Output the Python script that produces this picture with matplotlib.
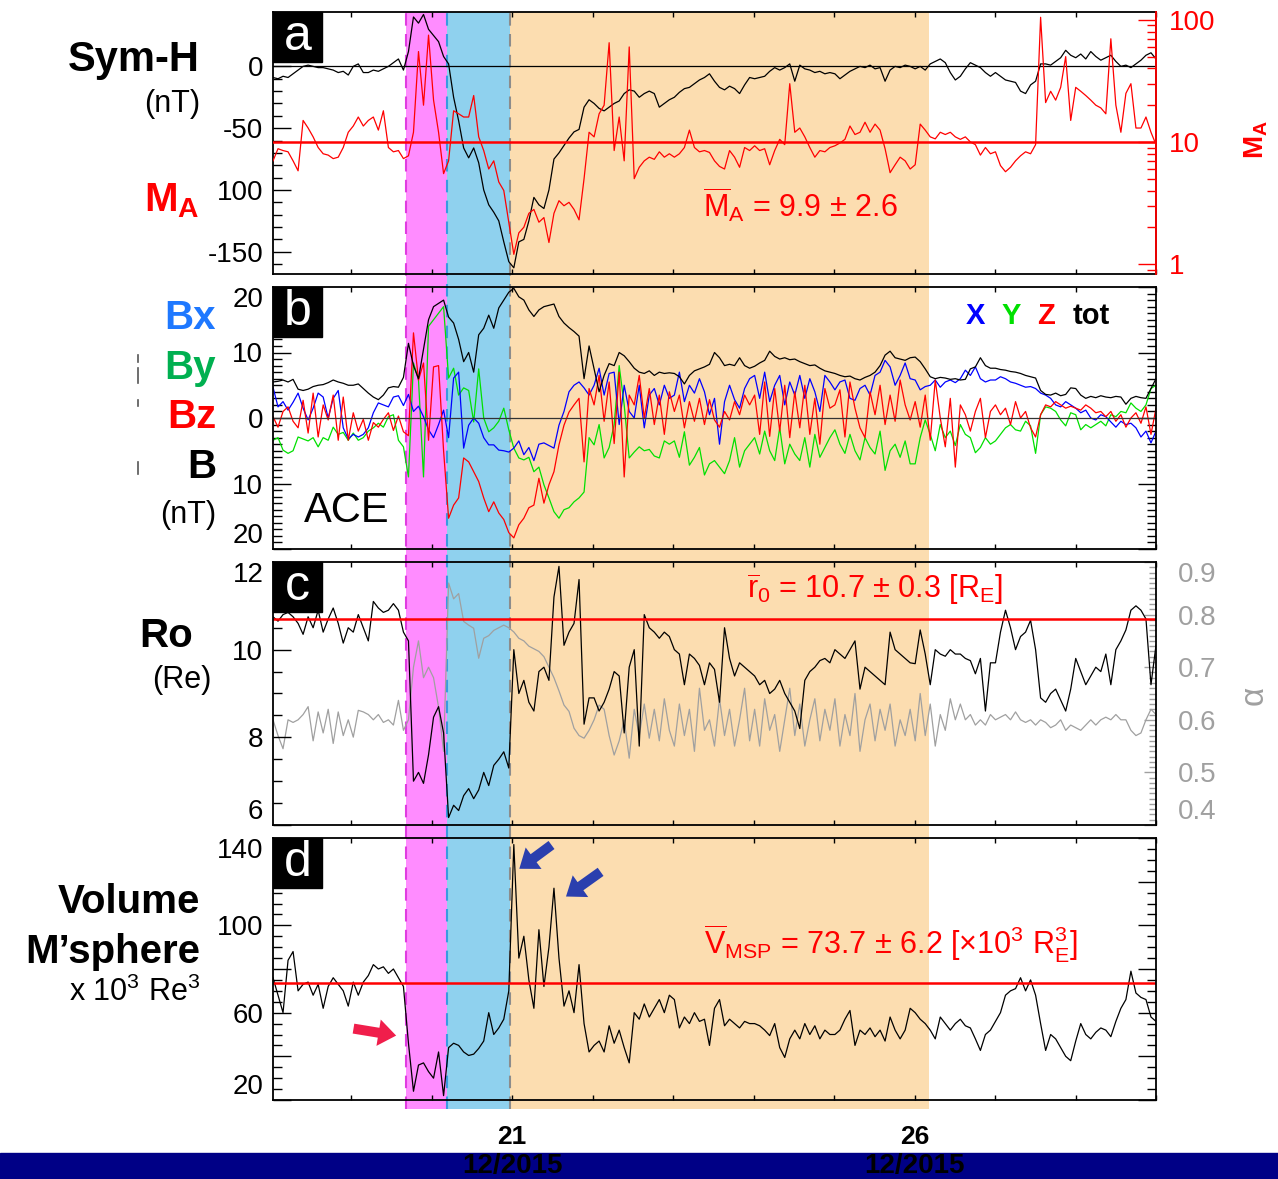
import numpy as np
import matplotlib.pyplot as plt
import matplotlib.transforms as mtransforms
from matplotlib.patches import Rectangle
from matplotlib.lines import Line2D
from matplotlib.ticker import MultipleLocator, FixedLocator, LogLocator, NullFormatter

plt.rcParams['font.family'] = ['Liberation Sans', 'DejaVu Sans']
plt.rcParams['mathtext.fontset'] = 'custom'
plt.rcParams['mathtext.rm'] = 'Liberation Sans'
plt.rcParams['mathtext.it'] = 'Liberation Sans:italic'
plt.rcParams['mathtext.bf'] = 'Liberation Sans:bold'
plt.rcParams['axes.unicode_minus'] = False

# time span (day of December 2015) and event boundaries
T0, T1 = 18.03, 29.0
shock_start, sheath_end, mc_start, mc_end = 19.68, 20.19, 20.98, 26.18

# Sym-H index (nT), 1.5 h samples, one row per day
sym_h = [
    -9, -10, -8, -9, -6, -3, 0, 1, 0, -1, -1, -2, -3, -5, -4, -7,
    0, 2, -5, -5, -3, -4, -2, 0, 3, 6, -3, 12, 40, 35, 42, 30,
    25, 20, 8, 2, -25, -44, -66, -74, -66, -78, -100, -112, -118, -125, -142, -158,
    -163, -142, -140, -125, -106, -112, -115, -100, -75, -70, -64, -58, -53, -51, -33, -27,
    -30, -34, -36, -33, -30, -28, -22, -19, -20, -25, -22, -20, -22, -33, -30, -27,
    -25, -21, -18, -17, -14, -11, -9, -6, -12, -17, -19, -16, -18, -22, -15, -9,
    -10, -9, -8, -4, -1, -3, -1, 2, -12, 1, -2, -3, -5, -4, -6, -5,
    -6, -10, -7, -4, -2, 0, -1, 1, -2, -1, -12, -3, 0, -1, 1, 0,
    -2, 0, -3, 2, 4, 6, 3, -5, -11, -8, -2, 3, 1, -1, -5, -8,
    -5, -8, -11, -12, -13, -20, -22, -15, -12, 2, 2, 1, 4, 7, 13, 9,
    7, 10, 6, 12, 8, 5, 7, 9, 4, 0, 1, -1, 2, 5, 9, 11,
    6,
]

# Alfven Mach number
m_a = [
    7, 8.8, 8.5, 8.3, 7, 5.8, 15, 13, 11, 9, 8, 7.8, 7.3, 7.5, 9, 12,
    13.5, 16, 13.5, 15, 16, 12.5, 18, 9, 8.3, 8.5, 7.3, 7.7, 12, 55, 20, 75,
    22, 12, 5.5, 7, 18, 17, 16, 16, 24, 11, 8.5, 6, 7, 4.7, 4, 2.2,
    1.2, 1.8, 2.0, 2.6, 2.8, 2.2, 2.4, 1.5, 2.6, 3.3, 3.0, 3.2, 2.8, 2.3, 5, 12,
    11, 17, 20, 65, 8.5, 16, 7, 60, 5, 6.2, 7, 7.5, 7.2, 8.3, 7.5, 8,
    7.5, 8, 9, 12.5, 9, 8.3, 8.5, 8.2, 7, 6.3, 6, 8.5, 7.5, 6.2, 9, 8.5,
    9.3, 8.5, 8.8, 6.5, 8.5, 10.5, 9.5, 30, 12, 13, 11, 9, 7.5, 8.5, 8.3, 9,
    9.3, 9.8, 10.5, 13.5, 11.5, 12, 14.5, 12, 14, 12.5, 8.8, 5.6, 6.5, 7.5, 7, 6,
    6.5, 14, 12.5, 11, 10.6, 12, 11.5, 12, 11, 10.5, 11, 10, 9.5, 7.8, 9, 8,
    8.3, 6.4, 5.7, 6.2, 7, 7.7, 8.3, 8, 9.5, 105, 21, 26, 22, 28, 50, 15,
    28, 26, 24, 22, 20, 19, 17, 70, 20, 12, 25, 30, 13, 13, 16, 12,
    9.5,
]

# IMF at ACE (nT)
b_tot = [
    5.5, 5.6, 5.8, 5.5, 5.9, 4.4, 4.2, 4.4, 4.8, 5.0, 5.1, 5.4, 5.8, 5.5, 5.3, 5.0,
    5.0, 5.2, 4.5, 3.8, 3.2, 2.8, 3.5, 4.6, 4.8, 4.7, 6.2, 11.4, 8.0, 6.0, 10.5, 15.0,
    17, 17.5, 18, 15.4, 14.5, 12, 8.6, 10, 7, 12.7, 13.7, 15.7, 13.7, 16.8, 18, 19.2,
    19.8, 18.5, 18, 16.5, 15.5, 16.5, 17, 17.2, 17.4, 15.5, 14.5, 13.8, 13.2, 12.5, 6, 11,
    7.5, 4, 6.5, 8.3, 8, 10, 9.5, 8.6, 7.6, 7, 6.8, 7.2, 6.5, 7, 6.8, 6.9,
    6.8, 6.3, 5.2, 6.5, 7.2, 7.5, 7.8, 8.2, 10.0, 9.2, 8.0, 8.2, 8.0, 9.2, 8.0, 7.6,
    7.9, 8.4, 8.8, 10.2, 9.4, 9.0, 9.2, 8.9, 9.0, 8.6, 8.3, 8.0, 8.1, 7.6, 7.2, 7.0,
    6.8, 6.5, 6.3, 6.4, 6.0, 5.8, 6.2, 6.5, 7.0, 8.0, 9.6, 10.2, 9.2, 9.0, 8.8, 9.2,
    9.3, 8.6, 7.5, 6.3, 6.0, 6.2, 6.1, 5.9, 6.0, 5.8, 5.9, 7.5, 7.8, 9.2, 8.0, 7.6,
    7.6, 7.4, 7.3, 7.1, 7.0, 6.8, 6.5, 6.3, 6.1, 4.2, 3.6, 3.5, 3.8, 3.4, 3.6, 4.6,
    4.5, 3.5, 3.0, 3.3, 3.1, 3.4, 3.2, 3.1, 3.3, 3.2, 2.1, 3.0, 3.3, 3.1, 3.0, 4.5,
    6.0,
]

b_x = [
    4.7, 1.7, 2.5, 1.2, 2.4, 3.8, 1.5, -0.3, 1.5, 3.8, 3.2, 0.0, 3.0, 4.2, -1.5, -3.2,
    -2.5, -2.9, -2.5, -1.5, 0.8, 2.3, 2.0, 1.7, 3.2, 3.4, 1.9, 3.6, 1.0, 1.8, 0.2, -1.8,
    -3.0, -1.0, 1.2, -3.0, 6.1, 7.0, -4.6, -1.1, 0.0, -0.8, -3.0, -4.1, -4.1, -4.9, -5.0, -5.2,
    -4.6, -3.5, -5.6, -4.5, -6.5, -4.0, -3.8, -4.2, -4.6, -1.1, 1.0, 4.0, 5.0, 5.5, 4.6, 3.5,
    5.0, 7.6, 3.5, 6.8, 7.0, -1.0, 5.0, 1.0, 0.0, 5.0, -1.5, 3.5, 4.5, 2.0, 5.0, 3.0,
    3.5, 7.0, 2.5, 5.0, 3.8, 6.0, 4.0, 0.5, 3.0, -4.0, 2.5, 5.0, 2.8, 1.5, 4.5, 6.0,
    6.5, 3.0, 7.0, 2.5, 5.0, 6.5, 2.0, 5.5, 3.5, 6.5, 3.0, 6.0, 4.0, 1.0, 6.5, 5.5,
    4.3, 5.5, 5.8, 3.0, 2.7, 4.5, 5.0, 3.5, 6.5, 7.0, 8.8, 7.8, 5.0, 6.5, 8.4, 6.0,
    5.8, 4.3, 4.8, 5.0, 5.8, 4.7, 5.5, 5.8, 5.4, 6.0, 7.3, 6.5, 7.8, 6.0, 5.5, 5.8,
    5.8, 6.3, 6.0, 5.5, 5.3, 5.0, 4.7, 4.8, 4.5, 3.8, 3.5, 3.0, 2.0, 1.7, 2.5, 2.0,
    1.5, 0.8, 1.2, 0.0, -0.3, 0.5, 0.2, -0.6, -1.4, -0.5, -1.0, -0.8, -1.5, -2.9, -2.0, -3.8,
    -2.0,
]

b_y = [
    -3.4, -3.0, -4.9, -5.4, -5.0, -2.9, -3.2, -3.5, -3.0, -4.4, -3.0, -3.4, -1.4, -2.5, -2.2, -3.4,
    -2.3, -3.4, -3.0, -2.0, -1.5, -0.8, -1.4, 0.2, 0.5, -3.4, -4.4, -9.0, 8.4, 5.8, -9.0, 14.0,
    15, 16, 17, 6.1, 7.6, 3.5, 4.6, 4.2, -0.6, 7.5, 0.0, -2.1, -1.5, -0.5, 1.5, -1.8,
    -4.6, -6.1, -6.4, -6.0, -8.2, -7.5, -10.2, -12.2, -14.3, -15.3, -14.0, -13.7, -12.8, -12.2, -11.3, -3.0,
    -4.1, -1.0, -6.1, -4.5, -1.0, 8.0, 2.0, -6.1, -5.2, -4.4, -5.0, -4.8, -5.8, -6.1, -3.5, -4.0,
    -3.5, -6.0, -2.1, -7.2, -6.0, -4.5, -8.7, -7.0, -6.5, -7.5, -8.5, -6.5, -3.0, -7.5, -5.0, -4.0,
    -3.0, -5.5, -2.0, -5.0, -6.5, -1.5, -7.0, -4.0, -5.5, -6.5, -3.0, -7.5, -2.5, -6.0, -4.5, -3.0,
    -1.8, -4.0, -5.4, -2.5, -5.0, -6.4, -3.0, -4.5, -5.5, -2.0, -8.0, -5.0, -4.0, -6.0, -3.5, -7.0,
    -7.0, -3.0, -0.3, -2.5, -5.0, -1.0, -3.0, -2.0, -4.2, -1.0, -2.5, -3.0, -5.3, -4.5, -3.0, -4.0,
    -3.5, -2.5, -1.5, -1.0, -1.8, -2.0, -0.5, -1.2, -5.4, 0.5, 1.7, 1.5, 1.0, -0.3, -1.2, 0.8,
    0.5, -1.8, -1.0, -1.5, -1.0, -0.5, -1.2, 0.5, 0.2, 1.0, 0.8, 2.3, 1.5, 1.0, 2.0, 4.5,
    5.0,
]

b_z = [
    0.2, -1.4, 1.0, 1.7, -0.5, -1.5, 2.7, -2.3, 3.8, -2.9, 2.0, -0.3, 3.5, -3.4, 3.2, -3.4,
    0.8, -2.0, -0.2, -3.4, -0.7, -1.4, -0.2, 0.8, -1.9, 0.3, -2.1, -2.7, 13.0, 5.8, 8.4, -3.4,
    7.8, 8.0, -5.0, -15.3, -13.3, -12.2, -6.1, -6.7, -8.2, -9.7, -12.2, -14.3, -12.8, -14.5, -15.5, -17.5,
    -18.3, -16.3, -15.3, -13.7, -13.3, -9.2, -13.0, -10.2, -8.2, -4.1, -1.1, 0.9, 2.0, 3.0, -6.7, 4.5,
    2.0, 6.5, -0.5, 5.5, -3.9, 7.0, -9.0, 3.5, 2.0, 6.5, 0.0, 4.5, -1.0, 3.5, -2.5, 4.0,
    1.0, 3.5, -1.5, 2.5, -0.5, 3.0, -1.0, 2.8, -0.3, -1.4, 1.0, -0.3, 2.5, 0.5, 3.5, 2.0,
    3.5, -2.5, 5.5, -2.8, 4.5, -2.0, 5.0, -3.0, 4.0, -1.5, 5.0, -2.5, 3.0, -4.0, 4.5, 1.5,
    2.0, 4.3, -2.9, 5.5, 1.5, -1.5, -3.0, 4.0, 0.5, 5.0, -1.0, 3.5, -0.5, 5.8, 2.0, -0.3,
    2.5, -1.4, 3.5, -3.4, 5.8, 0.0, -4.4, 3.0, -7.5, 2.0, 0.5, -2.0, 1.0, 3.0, -3.0, 1.0,
    2.0, 0.5, 1.5, -1.0, 2.5, 0.0, 1.0, -1.5, -2.9, 0.5, 2.0, 1.7, 2.5, 2.0, 1.5, 1.8,
    1.5, 1.2, 2.0, 1.5, 0.8, 1.0, 0.2, 1.0, -0.5, 0.5, -1.4, 0.0, 0.8, -0.8, 1.7, -2.5,
    1.5,
]

# magnetopause standoff distance (Re) and flaring parameter
r_0 = [
    10.75, 10.65, 10.8, 10.85, 10.75, 10.6, 10.35, 10.75, 10.5, 10.9, 10.4, 10.7, 10.95, 10.6, 10.15, 10.5,
    10.4, 10.8, 10.5, 10.2, 11.1, 10.95, 10.85, 10.9, 11.05, 10.9, 10.4, 10.2, 7.0, 7.2, 6.95, 7.6,
    8.46, 8.7, 8.1, 6.17, 6.45, 6.33, 6.67, 6.83, 6.6, 6.8, 7.2, 6.9, 7.36, 7.5, 7.67, 7.3,
    10.0, 9.0, 9.3, 8.8, 8.6, 9.5, 9.6, 9.3, 11.2, 11.9, 10.1, 10.4, 10.6, 11.6, 8.3, 8.9,
    8.9, 8.6, 8.8, 9.1, 9.5, 9.4, 8.1, 9.6, 10.0, 7.8, 10.8, 10.5, 10.4, 10.26, 10.4, 10.3,
    10.0, 9.9, 9.2, 9.9, 9.8, 9.64, 9.2, 9.7, 9.55, 8.8, 10.5, 9.8, 9.4, 9.7, 9.6, 9.5,
    9.4, 9.2, 9.3, 9.0, 9.1, 9.3, 9.0, 8.8, 8.6, 8.2, 9.3, 9.5, 9.6, 9.75, 9.8, 9.7,
    10.0, 9.9, 9.8, 10.0, 10.2, 9.1, 9.6, 9.5, 9.4, 9.3, 9.2, 10.4, 10.0, 9.9, 9.8, 9.7,
    9.68, 10.45, 9.9, 9.2, 10.0, 9.9, 9.85, 10.0, 9.9, 9.9, 9.8, 9.75, 9.45, 9.8, 8.6, 9.7,
    9.7, 10.4, 10.9, 10.5, 10.0, 10.3, 10.4, 10.67, 10.0, 8.9, 8.8, 9.0, 9.1, 8.85, 8.6, 9.1,
    9.8, 9.5, 9.2, 9.4, 9.6, 9.5, 9.9, 9.2, 10.0, 10.2, 10.45, 10.9, 11.0, 10.9, 10.7, 9.2,
    10.1,
]

alpha = [
    0.6, 0.57, 0.545, 0.6, 0.595, 0.6, 0.61, 0.625, 0.56, 0.615, 0.575, 0.62, 0.555, 0.615, 0.57, 0.6,
    0.567, 0.618, 0.615, 0.61, 0.6, 0.61, 0.595, 0.6, 0.59, 0.637, 0.58, 0.6, 0.7, 0.75, 0.68, 0.7,
    0.68, 0.624, 0.54, 0.86, 0.83, 0.84, 0.787, 0.78, 0.774, 0.717, 0.755, 0.76, 0.77, 0.775, 0.78, 0.775,
    0.767, 0.755, 0.75, 0.74, 0.735, 0.73, 0.72, 0.7, 0.68, 0.655, 0.628, 0.616, 0.584, 0.57, 0.565, 0.58,
    0.6, 0.628, 0.62, 0.57, 0.533, 0.56, 0.6, 0.527, 0.62, 0.57, 0.63, 0.565, 0.62, 0.56, 0.64, 0.58,
    0.55, 0.63, 0.57, 0.62, 0.54, 0.66, 0.58, 0.6, 0.55, 0.64, 0.57, 0.62, 0.55, 0.6, 0.66, 0.56,
    0.62, 0.55, 0.64, 0.58, 0.61, 0.54, 0.6, 0.66, 0.57, 0.63, 0.55, 0.6, 0.64, 0.56, 0.62, 0.58,
    0.64, 0.55, 0.61, 0.57, 0.65, 0.54, 0.6, 0.63, 0.56, 0.62, 0.58, 0.63, 0.55, 0.6, 0.57, 0.62,
    0.56, 0.65, 0.57, 0.63, 0.55, 0.61, 0.58, 0.64, 0.6, 0.63, 0.6, 0.61, 0.59, 0.6, 0.59, 0.61,
    0.6, 0.605, 0.61, 0.6, 0.615, 0.6, 0.595, 0.6, 0.59, 0.6, 0.595, 0.585, 0.59, 0.6, 0.58, 0.59,
    0.585, 0.58, 0.59, 0.6, 0.59, 0.6, 0.605, 0.6, 0.61, 0.6, 0.6, 0.58, 0.57, 0.575, 0.6, 0.62,
    0.61,
]

# magnetosphere volume (x 10^3 Re^3)
volume = [
    76, 68, 60, 84, 88, 70, 73, 74, 68, 73, 62, 72, 76, 73, 70, 63,
    74, 68, 74, 77, 82, 80, 81, 78, 80, 76, 72, 46, 24, 36, 37, 33,
    30, 42, 22, 44, 46, 45, 42, 40.4, 41, 43.6, 47, 60, 50, 53, 57, 70,
    137, 85, 95, 75, 62, 98, 72, 90, 117, 85, 63, 70, 60, 82, 55, 42,
    45, 47, 42, 54, 46, 52, 44, 37, 60, 57, 64, 58, 62, 66, 60, 68,
    66, 53, 58, 55, 60, 56, 57, 45, 62, 66, 54, 57, 55, 53, 56, 55,
    55, 54, 52, 49.5, 55, 44, 39.5, 48, 52, 48, 55, 50, 54, 48, 52, 50,
    50, 52, 57, 61, 45, 52, 50, 53, 49, 52, 47, 58, 52, 48, 52, 62,
    60, 57, 55, 52, 48, 58, 55, 52, 55, 57, 54, 53, 48, 42.7, 50, 52,
    56, 60, 68, 70, 71, 76, 70, 75, 68, 55, 42.7, 50, 48, 44, 40, 38,
    47, 55, 50, 48, 51, 53, 52, 49, 56, 62, 66, 79, 69, 67, 66, 58,
    56,
]

ma_mean, r0_mean, vol_mean = 9.9, 10.7, 73.7


def times(series):
    return np.linspace(T0, T1, len(series))


W, H = 1278, 1179
fig = plt.figure(figsize=(W / 100, H / 100), dpi=100)
X0, X1 = 273, 1156


def fx(px):
    return px / W


def fy(px):
    return 1 - px / H


def panel(top, bottom):
    ax = fig.add_axes([X0 / W, 1 - bottom / H, (X1 - X0) / W, (bottom - top) / H])
    ax.set_facecolor('none')
    ax.set_xlim(T0, T1)
    ax.xaxis.set_major_locator(MultipleLocator(1))
    ax.tick_params(axis='x', which='both', direction='in', top=True, bottom=True,
                   length=3.5, width=1, labelbottom=False)
    ax.tick_params(axis='y', which='major', direction='in', length=13, width=1,
                   labelsize=20, pad=7)
    ax.tick_params(axis='y', which='minor', direction='in', length=6.5, width=1)
    for s in ax.spines.values():
        s.set_linewidth(1.3)
    return ax


def letter(ax, ch):
    h = 50 / (ax.get_position().height * H)
    w = 49 / (X1 - X0)
    ax.add_patch(Rectangle((0, 1 - h), w, h, transform=ax.transAxes,
                           color='black', zorder=10, clip_on=False))
    ax.text(w / 2, 1 - h / 2, ch, transform=ax.transAxes, color='white',
            fontsize=36, ha='center', va='center', zorder=11)


def edge_labels(labels):
    labels[0].set_va('bottom')
    labels[-1].set_va('top')


# shaded event intervals behind all panels
bg = fig.add_axes([X0 / W, 1 - 1109 / H, (X1 - X0) / W, (1109 - 12) / H])
bg.set_zorder(-5)
bg.set_xlim(T0, T1)
bg.set_ylim(0, 1)
bg.axis('off')
bg.axvspan(shock_start, sheath_end, color='#FF8CFF', lw=0)
bg.axvspan(sheath_end, mc_start, color='#8FD1EE', lw=0)
bg.axvspan(mc_start, mc_end, color='#FCDDB0', lw=0)
bg.axvline(shock_start, color='#E03CE0', lw=1.5, ls=(0, (6, 4)))
bg.axvline(sheath_end, color='#3A9AE0', lw=1.5, ls=(0, (6, 4)))
bg.axvline(mc_start, color='#8C8C8C', lw=1.5, ls=(0, (6, 4)))

# (a) Sym-H and M_A
ax_a = panel(12, 274)
ax_a.plot(times(sym_h), sym_h, color='black', lw=0.9)
ax_a.axhline(0, color='black', lw=0.9)
ax_a.set_ylim(-168, 44)
ax_a.set_yticks([-150, -100, -50, 0], ['-150', '100', '-50', '0'])
ax_a.yaxis.set_minor_locator(MultipleLocator(10))
letter(ax_a, 'a')

ma_ax = ax_a.twinx()
ma_ax.set_yscale('log')
ma_ax.plot(times(m_a), m_a, color='red', lw=0.9)
ma_ax.axhline(ma_mean, color='red', lw=1.8)
ma_ax.set_ylim(0.828, 116)
ma_ax.yaxis.set_major_locator(FixedLocator([1, 10, 100]))
ma_ax.set_yticklabels(['1', '10', '100'])
ma_ax.yaxis.set_minor_locator(LogLocator(base=10, subs=np.arange(2, 10)))
ma_ax.yaxis.set_minor_formatter(NullFormatter())
ma_ax.tick_params(axis='y', which='major', direction='in', length=13, width=1,
                  colors='red', labelsize=20, pad=9)
ma_ax.tick_params(axis='y', which='minor', direction='in', length=6.5, width=1, colors='red')
ma_ax.spines['right'].set_color('red')
ma_ax.spines['right'].set_linewidth(1.3)
for side in ('left', 'top', 'bottom'):
    ma_ax.spines[side].set_visible(False)

# (b) IMF components
ax_b = panel(287, 549)
ax_b.plot(times(b_y), b_y, color='#00E000', lw=0.9)
ax_b.plot(times(b_x), b_x, color='#0000FF', lw=0.9)
ax_b.plot(times(b_z), b_z, color='#FF0000', lw=0.9)
ax_b.plot(times(b_tot), b_tot, color='black', lw=0.9)
ax_b.axhline(0, color='#333333', lw=0.9)
ax_b.set_ylim(-20, 20)
ax_b.set_yticks([-20, -10, 0, 10, 20], ['20', '10', '0', '10', '20'])
ax_b.yaxis.set_minor_locator(MultipleLocator(1))
ax_b.tick_params(axis='y', which='both', right=True)
edge_labels(ax_b.get_yticklabels())
letter(ax_b, 'b')
ax_b.text(305, 511, 'ACE', fontsize=30, ha='left', va='center',
          transform=mtransforms.IdentityTransform()) if False else None
fig.text(fx(304), fy(511), 'ACE', fontsize=30, ha='left', va='center')
for lab, col, xp in (('X', '#0000FF', 975), ('Y', '#00E000', 1011),
                     ('Z', '#FF0000', 1046), ('tot', 'black', 1091)):
    fig.text(fx(xp), fy(316), lab, color=col, fontsize=21, fontweight='bold',
             ha='center', va='center')

# (c) standoff distance and flaring
ax_c = panel(562, 825)
al_ax = ax_c.twinx()
ax_c.set_zorder(al_ax.get_zorder() + 1)
al_ax.plot(times(alpha), alpha, color='#A0A0A0', lw=0.9)
al_ax.set_ylim(0.4, 0.9)
al_ax.set_yticks([0.4, 0.5, 0.6, 0.7, 0.8, 0.9], ['0.4', '0.5', '0.6', '0.7', '0.8', '0.9'])
al_ax.yaxis.set_minor_locator(MultipleLocator(0.01))
al_ax.tick_params(axis='y', which='major', direction='in', length=9, width=1,
                  colors='#A0A0A0', labelsize=20, pad=16)
al_ax.tick_params(axis='y', which='minor', direction='in', length=5, width=1, colors='#A0A0A0')
al_ax.tick_params(axis='x', which='both', direction='in', top=True, bottom=True, length=3.5)
for side in ('left', 'top', 'bottom', 'right'):
    al_ax.spines[side].set_visible(False)
edge_labels(al_ax.get_yticklabels())

ax_c.plot(times(r_0), r_0, color='black', lw=0.9)
ax_c.axhline(r0_mean, color='red', lw=1.8)
ax_c.set_ylim(6, 12)
ax_c.set_yticks([6, 8, 10, 12], ['6', '8', '10', '12'])
ax_c.yaxis.set_minor_locator(MultipleLocator(0.5))
edge_labels(ax_c.get_yticklabels())
letter(ax_c, 'c')

# (d) magnetosphere volume
ax_d = panel(838, 1100)
ax_d.plot(times(volume), volume, color='black', lw=0.9)
ax_d.axhline(vol_mean, color='red', lw=1.8)
ax_d.set_ylim(20, 140)
ax_d.set_yticks([20, 40, 60, 80, 100, 120, 140], ['20', '', '60', '', '100', '', '140'])
ax_d.yaxis.set_minor_locator(MultipleLocator(5))
ax_d.tick_params(axis='y', which='both', right=True)
edge_labels(ax_d.get_yticklabels())
letter(ax_d, 'd')

arrow = dict(arrowstyle='simple,head_length=0.8,head_width=1.2,tail_width=0.45',
             mutation_scale=16, shrinkA=0, shrinkB=0, lw=0)
ax_d.annotate('', xy=(21.09, 125.9), xytext=(21.49, 136.8),
              arrowprops=dict(arrow, color='#2B3FAE'))
ax_d.annotate('', xy=(21.67, 113.2), xytext=(22.10, 124.5),
              arrowprops=dict(arrow, color='#2B3FAE'))
ax_d.annotate('', xy=(19.56, 49.5), xytext=(19.03, 52.7),
              arrowprops=dict(arrow, color='#F01E4B'))

# mean values
fig.text(fx(703), fy(205), r'$\overline{\mathrm{M}}_\mathrm{A}$ = 9.9 ± 2.6',
         color='red', fontsize=22, ha='left', va='center')
fig.text(fx(747), fy(589), r'$\overline{\mathrm{r}}_0$ = 10.7 ± 0.3 [R$_\mathrm{E}$]',
         color='red', fontsize=22, ha='left', va='center')
fig.text(fx(704), fy(944), r'$\overline{\mathrm{V}}_\mathrm{MSP}$ = 73.7 ± 6.2 [×10$^3$ R$_\mathrm{E}^3$]',
         color='red', fontsize=22, ha='left', va='center')

# left-hand labels
fig.text(fx(200), fy(60), 'Sym-H', fontsize=30, fontweight='bold', ha='right', va='center')
fig.text(fx(200), fy(104), '(nT)', fontsize=22, ha='right', va='center')
fig.text(fx(200), fy(201), r'$\mathbf{M_A}$', color='red', fontsize=29, ha='right', va='center')
fig.text(fx(216), fy(318), 'Bx', color='#1E78FF', fontsize=29, fontweight='bold', ha='right', va='center')
fig.text(fx(216), fy(368), 'By', color='#00B050', fontsize=29, fontweight='bold', ha='right', va='center')
fig.text(fx(216), fy(417), 'Bz', color='#FF0000', fontsize=29, fontweight='bold', ha='right', va='center')
fig.text(fx(216), fy(467), 'B', color='black', fontsize=29, fontweight='bold', ha='right', va='center')
fig.text(fx(216), fy(515), '(nT)', fontsize=22, ha='right', va='center')
fig.text(fx(193), fy(636), 'Ro', fontsize=29, fontweight='bold', ha='right', va='center')
fig.text(fx(211), fy(680), '(Re)', fontsize=22, ha='right', va='center')
fig.text(fx(200), fy(902), 'Volume', fontsize=29, fontweight='bold', ha='right', va='center')
fig.text(fx(200), fy(952), 'M\u2019sphere', fontsize=29, fontweight='bold', ha='right', va='center')
fig.text(fx(200), fy(992), r'x 10$^3$ Re$^3$', fontsize=22, ha='right', va='center')
for y0, y1 in ((355, 362), (368, 383), (400, 406), (462, 474)):
    fig.add_artist(Line2D([fx(138), fx(138)], [fy(y0), fy(y1)], color='#555555', lw=1.2))

# right-hand labels
fig.text(fx(1256), fy(140), r'$\mathbf{M_A}$', color='red', fontsize=20,
         rotation=90, ha='center', va='center')
fig.text(fx(1254), fy(695), 'α', color='#A0A0A0', fontsize=24,
         rotation=90, ha='center', va='center')

# date labels and bottom band
fig.add_artist(Rectangle((0, 0), 1, 26 / H, transform=fig.transFigure,
                         color='#000086', zorder=1))
date_tr = mtransforms.blended_transform_factory(ax_d.transData, fig.transFigure)
for day in (21, 26):
    fig.text(day, fy(1137), str(day), transform=date_tr, fontsize=19,
             fontweight='bold', ha='center', va='center', zorder=5)
    fig.text(day, fy(1166), '12/2015', transform=date_tr, fontsize=20,
             fontweight='bold', ha='center', va='center', zorder=5)

fig.savefig('out.png', dpi=100)
